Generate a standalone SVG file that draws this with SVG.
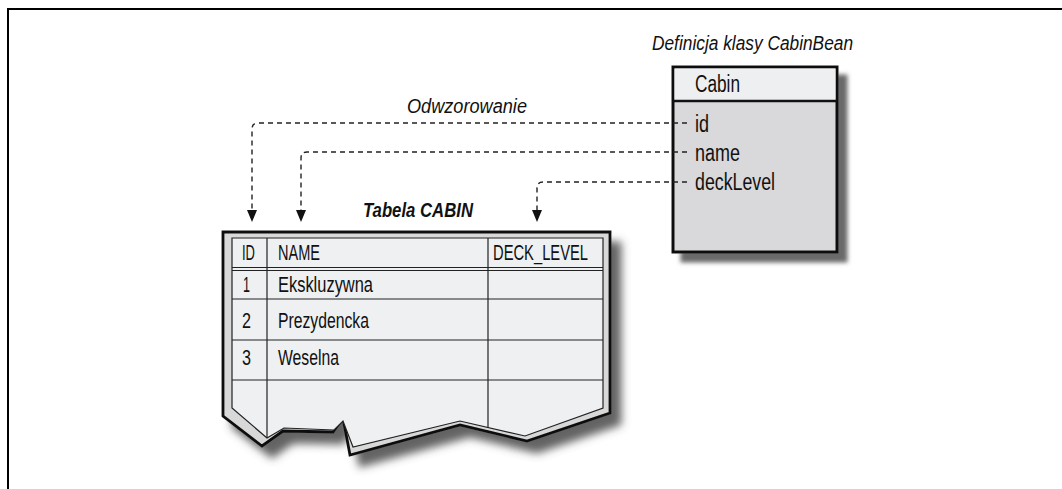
<svg xmlns="http://www.w3.org/2000/svg" width="1062" height="489" viewBox="0 0 1062 489">
<style>
.t{font-family:"Liberation Sans",Arial,sans-serif;fill:#111;}
.cell{font-size:22px;}
.cls{font-size:23px;}
.lbl{font-size:20px;font-style:italic;}
.dash{fill:none;stroke:#222;stroke-width:1.4;stroke-dasharray:5 4;}
.grid{stroke:#222;stroke-width:1.2;fill:none;}
</style>
<defs>
<filter id="sh" x="-10%" y="-10%" width="130%" height="140%">
<feDropShadow dx="10" dy="11" stdDeviation="4" flood-color="#4a4a4a" flood-opacity="0.85"/>
</filter>
<filter id="sh2" x="-10%" y="-10%" width="130%" height="130%">
<feDropShadow dx="9" dy="9" stdDeviation="2" flood-color="#5a5a5a" flood-opacity="0.9"/>
</filter>
</defs>

<path d="M8,489 V9 H1062" fill="none" stroke="#000" stroke-width="2"/>

<g id="class-cabin">
<text class="t lbl" x="652" y="50" textLength="201" lengthAdjust="spacingAndGlyphs">Definicja klasy CabinBean</text>
<rect x="673" y="67" width="164" height="185" fill="#d9d8da" stroke="#111" stroke-width="3" filter="url(#sh2)"/>
<rect x="674.5" y="68.5" width="161" height="32" fill="#eeeff1"/>
<line x1="673" y1="101" x2="837" y2="101" stroke="#111" stroke-width="2.5"/>
<text class="t cls" x="695" y="92" textLength="45" lengthAdjust="spacingAndGlyphs">Cabin</text>
<text class="t cls" x="695" y="132" textLength="14" lengthAdjust="spacingAndGlyphs">id</text>
<text class="t cls" x="695" y="161" textLength="45" lengthAdjust="spacingAndGlyphs">name</text>
<text class="t cls" x="695" y="190" textLength="80" lengthAdjust="spacingAndGlyphs">deckLevel</text>
</g>

<g id="table-cabin">
<text class="t" x="363" y="217" font-size="21" font-weight="bold" font-style="italic" textLength="110" lengthAdjust="spacingAndGlyphs">Tabela CABIN</text>
<path d="M223,232 H610 V413 L527,441 L460,425 L350,455 L343,418 L333,432 L283,431 L262,446 L223,416 Z" fill="#d8d8d8" stroke="#111" stroke-width="2.8" stroke-linejoin="miter" filter="url(#sh)"/>
<path d="M232,238 H603 V408 L525,436 L460,421 L353,447 L343,421 L334,430 L284,428 L267,438 L232,408 Z" fill="#eef0f2" stroke="#222" stroke-width="1.2"/>
<line class="grid" x1="232" y1="267.5" x2="603" y2="267.5"/>
<line class="grid" x1="232" y1="270.5" x2="603" y2="270.5"/>
<line class="grid" x1="232" y1="299" x2="603" y2="299"/>
<line class="grid" x1="232" y1="340" x2="603" y2="340"/>
<line class="grid" x1="232" y1="380" x2="603" y2="380"/>
<line class="grid" x1="267" y1="238" x2="267" y2="438"/>
<line class="grid" x1="488" y1="238" x2="488" y2="427.5"/>
<text class="t cell" x="242" y="260" textLength="13" lengthAdjust="spacingAndGlyphs">ID</text>
<text class="t cell" x="278" y="260" textLength="42" lengthAdjust="spacingAndGlyphs">NAME</text>
<text class="t cell" x="493" y="260" textLength="95" lengthAdjust="spacingAndGlyphs">DECK_LEVEL</text>
<text class="t cell" x="243" y="292" textLength="7" lengthAdjust="spacingAndGlyphs">1</text>
<text class="t cell" x="278" y="292" textLength="95" lengthAdjust="spacingAndGlyphs">Ekskluzywna</text>
<text class="t cell" x="242" y="328" textLength="9" lengthAdjust="spacingAndGlyphs">2</text>
<text class="t cell" x="278" y="328" textLength="91" lengthAdjust="spacingAndGlyphs">Prezydencka</text>
<text class="t cell" x="242" y="365" textLength="9" lengthAdjust="spacingAndGlyphs">3</text>
<text class="t cell" x="278" y="365" textLength="61" lengthAdjust="spacingAndGlyphs">Weselna</text>
</g>

<g id="connectors">
<path class="dash" d="M687,123 H258 Q252,123 252,129 V210"/>
<path d="M247,210 L257,210 L252,222 Z" fill="#111"/>
<path class="dash" d="M687,152 H307 Q301,152 301,158 V210"/>
<path d="M296,210 L306,210 L301,222 Z" fill="#111"/>
<path class="dash" d="M687,182 H543 Q537,182 537,188 V210"/>
<path d="M532,210 L542,210 L537,222 Z" fill="#111"/>
<text class="t lbl" x="407" y="113" textLength="120" lengthAdjust="spacingAndGlyphs">Odwzorowanie</text>
</g>
</svg>
